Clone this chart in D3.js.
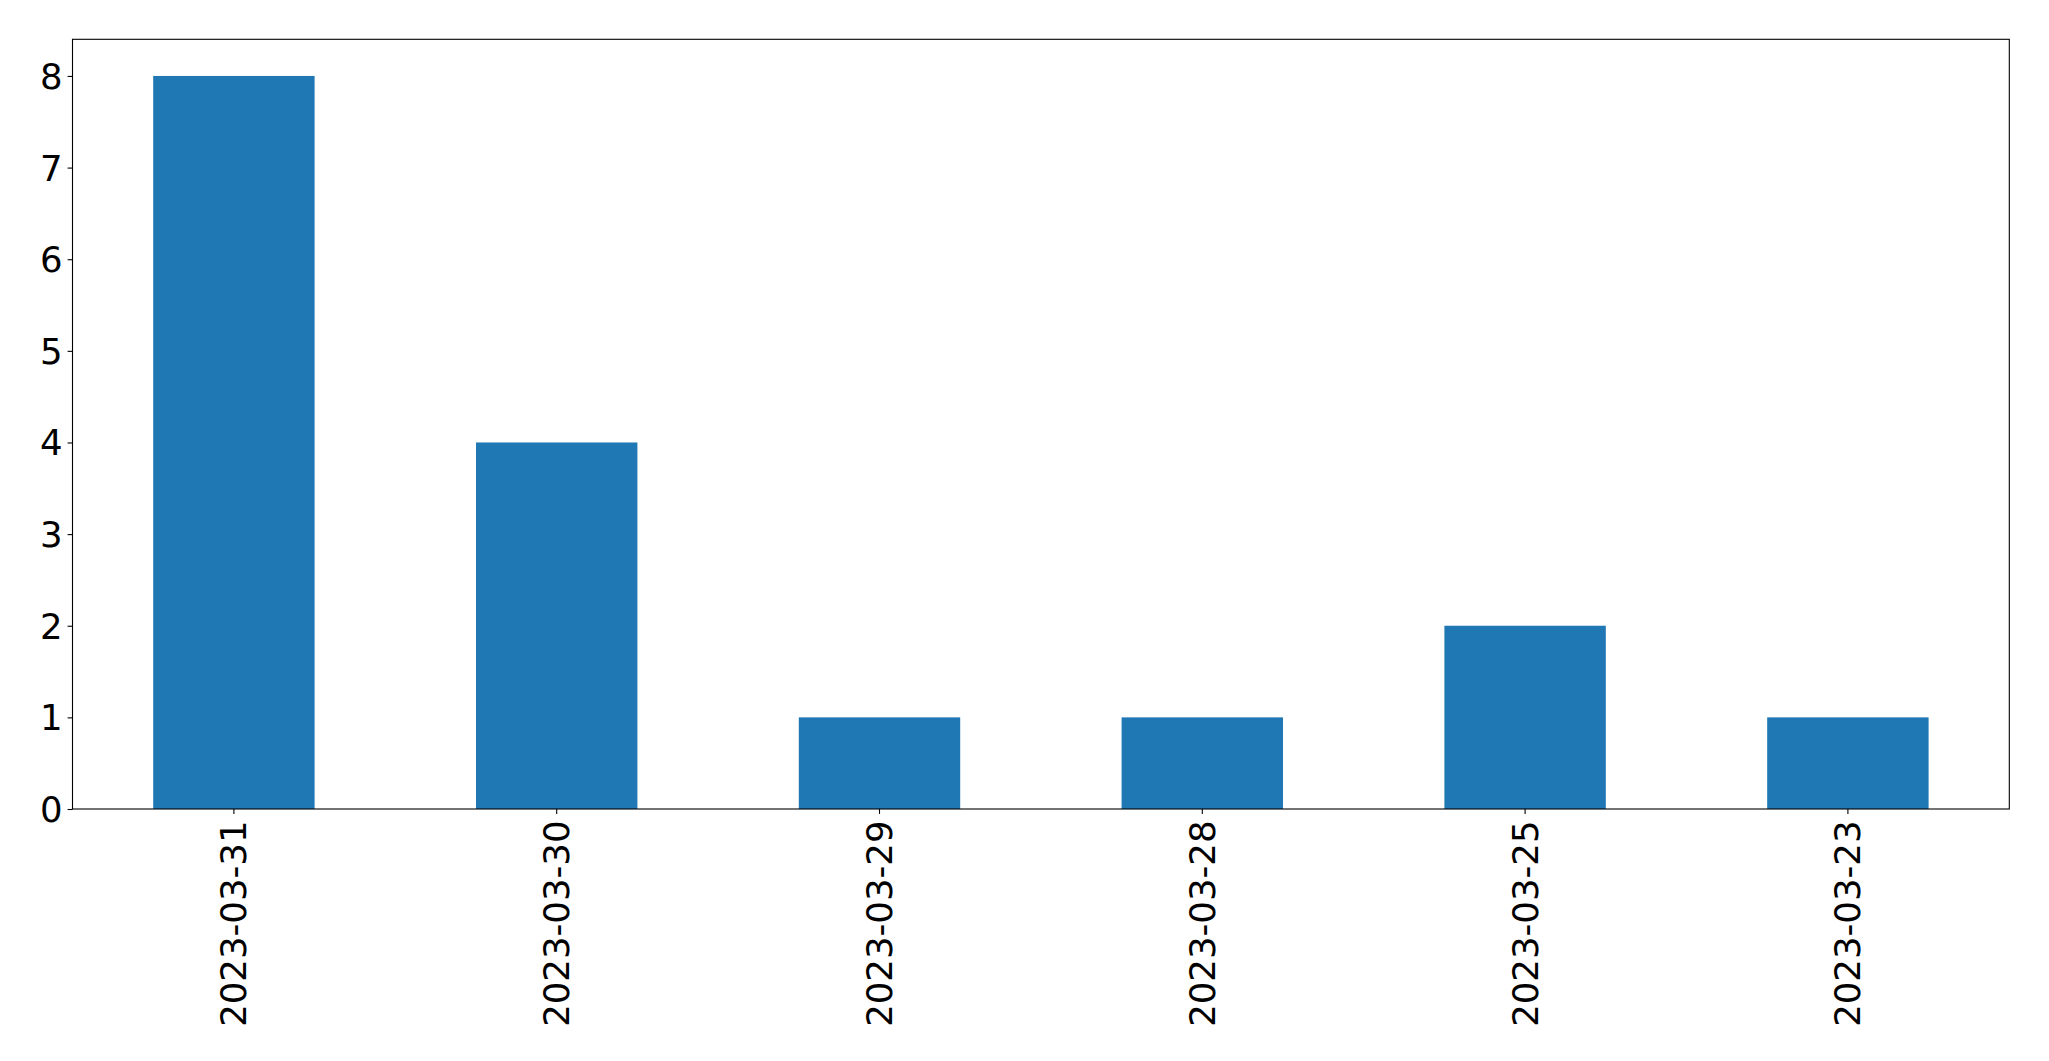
<!DOCTYPE html>
<html>
<head>
<meta charset="utf-8">
<script src="https://cdn.jsdelivr.net/npm/d3@7"></script>
<style>
  html, body { margin: 0; padding: 0; background: #fff; }
  svg { display: block; }
</style>
</head>
<body>
<svg id="chart" width="2049" height="1061"></svg>
<script>
const categories = ["2023-03-31", "2023-03-30", "2023-03-29", "2023-03-28", "2023-03-25", "2023-03-23"];
const values = [8, 4, 1, 1, 2, 1];
const yTicks = [0, 1, 2, 3, 4, 5, 6, 7, 8];

const W = 2049, H = 1061;
const margin = { left: 72.5, right: W - 2009.3, top: 39.3, bottom: H - 809 };
const svg = d3.select("#chart");
const fontSize = 35.5;
const font = "'DejaVu Sans', sans-serif";

const x = d3.scaleBand()
  .domain(categories)
  .range([margin.left, W - margin.right])
  .paddingInner(0.5)
  .paddingOuter(0.25);

const y = d3.scaleLinear()
  .domain([0, 8.4])
  .range([H - margin.bottom, margin.top]);

// bars
svg.append("g").selectAll("rect")
  .data(categories.map((c, i) => ({ c, v: values[i] })))
  .join("rect")
  .attr("x", d => x(d.c))
  .attr("width", x.bandwidth())
  .attr("y", d => y(d.v))
  .attr("height", d => y(0) - y(d.v))
  .attr("fill", "#1f77b4");

// frame
svg.append("rect")
  .attr("x", margin.left)
  .attr("y", margin.top)
  .attr("width", W - margin.right - margin.left)
  .attr("height", H - margin.bottom - margin.top)
  .attr("fill", "none")
  .attr("stroke", "#000")
  .attr("stroke-width", 1.1);

// y axis
const yAxis = d3.axisLeft(y).tickValues(yTicks).tickSize(4.9).tickPadding(4.9).tickFormat(d3.format("d"));
const gy = svg.append("g").attr("transform", `translate(${margin.left},0)`).call(yAxis);
gy.select(".domain").remove();
gy.selectAll(".tick line").attr("stroke", "#000").attr("stroke-width", 1.1);
gy.selectAll(".tick text")
  .attr("font-family", font)
  .attr("font-size", fontSize)
  .attr("fill", "#000")
  .attr("dy", "0.35em");

// x axis
const xAxis = d3.axisBottom(x).tickSize(4.9).tickPadding(0);
const gx = svg.append("g").attr("transform", `translate(0,${H - margin.bottom})`).call(xAxis);
gx.select(".domain").remove();
gx.selectAll(".tick line").attr("stroke", "#000").attr("stroke-width", 1.1);
gx.selectAll(".tick text")
  .attr("font-family", font)
  .attr("font-size", fontSize)
  .attr("fill", "#000")
  .attr("text-anchor", "end")
  .attr("dy", "0.35em")
  .attr("y", 0)
  .attr("transform", "translate(0,11.5) rotate(-90)");
</script>
</body>
</html>
